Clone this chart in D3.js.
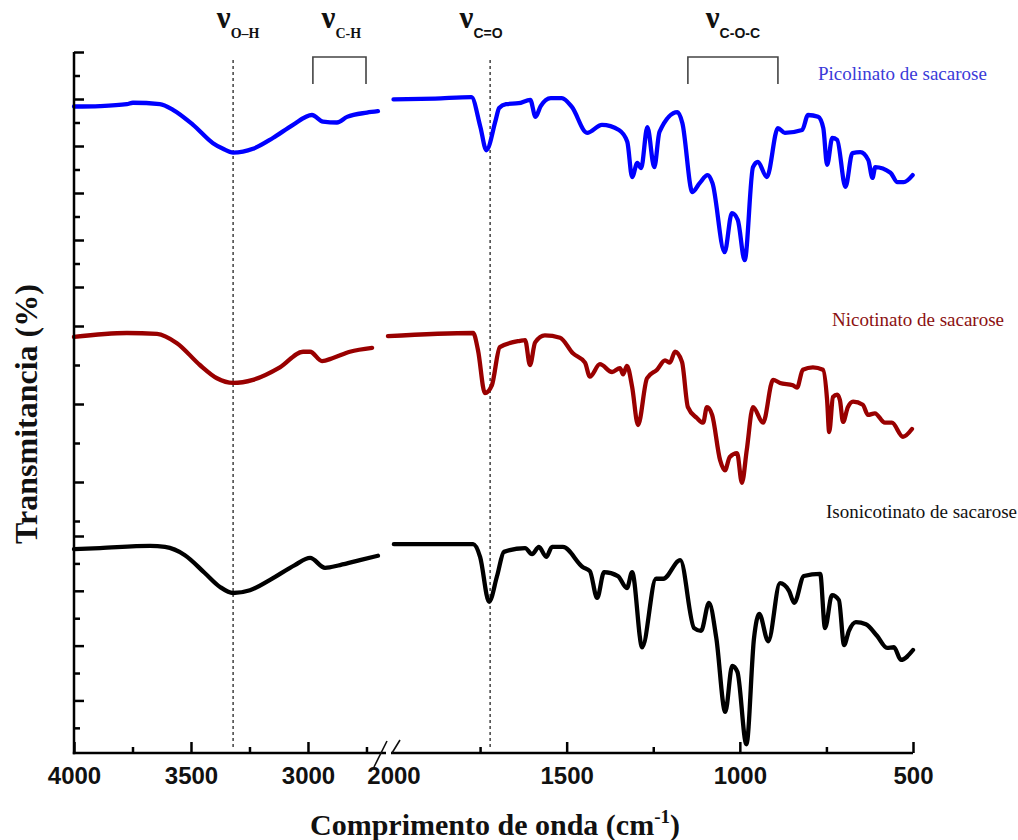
<!DOCTYPE html>
<html>
<head>
<meta charset="utf-8">
<script src="https://cdn.jsdelivr.net/npm/d3@7"></script>
<style>
  body { margin: 0; background: #fff; }
  svg { display: block; }
</style>
</head>
<body>
<svg id="chart" width="1018" height="840"></svg>
<script>
// FTIR spectra of the sucrose esters: [wavenumber (cm-1), transmittance (%)]
// Each spectrum is split into the 4000–2700 and 2000–500 windows of the broken axis.
const picolinatoHigh = [[4000,88.4],[3889,88.5],[3774,88.9],[3748,89.2],[3633,88.9],[3577,87.7],[3491,84.5],[3406,80.6],[3363,79.4],[3320,78.6],[3278,78.8],[3235,79.4],[3150,81.7],[3064,84.5],[2983,86.6],[2936,85.2],[2876,85.0],[2833,86.2],[2748,87.1],[2701,87.4]];
const picolinatoLow = [[2000,89.9],[1880,90.1],[1775,90.4],[1749,84.0],[1732,79.1],[1705,85.5],[1695,88.1],[1675,88.9],[1639,89.1],[1605,89.8],[1590,86.2],[1575,88.5],[1546,90.2],[1514,90.2],[1485,88.3],[1441,82.8],[1398,84.5],[1349,83.4],[1325,80.9],[1311,73.4],[1296,76.4],[1285,75.3],[1267,84.0],[1247,75.5],[1232,83.0],[1180,87.2],[1166,84.9],[1137,70.2],[1116,72.1],[1093,73.8],[1079,72.1],[1044,57.4],[1023,65.7],[1006,64.3],[986,55.7],[962,75.5],[948,76.6],[922,73.4],[890,83.8],[870,82.8],[820,83.4],[803,86.6],[774,86.2],[759,83.8],[748,76.0],[733,81.7],[719,81.3],[695,71.3],[675,78.5],[652,78.7],[629,77.0],[617,73.2],[609,75.5],[565,74.3],[545,72.3],[527,72.3],[501,73.8]];

const nicotinatoHigh = [[4000,98.6],[3774,99.1],[3645,99.0],[3560,97.8],[3462,95.0],[3389,93.3],[3320,92.7],[3235,93.1],[3120,94.7],[3021,96.7],[2991,96.7],[2940,95.5],[2893,95.9],[2821,96.7],[2726,97.2]];
const nicotinatoLow = [[2016,98.7],[1770,99.1],[1756,96.9],[1736,91.4],[1716,92.4],[1693,97.3],[1635,98.1],[1620,98.2],[1606,95.0],[1591,97.9],[1563,98.8],[1519,98.5],[1482,96.5],[1447,95.3],[1433,93.5],[1404,95.1],[1369,94.1],[1346,94.6],[1337,93.8],[1326,94.9],[1311,92.2],[1294,87.3],[1268,93.3],[1239,94.4],[1216,95.6],[1202,95.3],[1187,96.7],[1167,95.4],[1150,89.6],[1124,88.2],[1106,87.6],[1095,89.6],[1080,88.6],[1057,82.8],[1043,81.5],[1029,83.2],[1008,83.7],[994,79.9],[980,84.1],[962,89.6],[933,87.6],[904,93.1],[884,92.7],[847,92.4],[835,92.1],[818,94.4],[789,94.7],[760,94.4],[748,90.5],[742,86.4],[731,90.9],[719,91.2],[711,90.5],[702,87.7],[688,89.6],[673,90.3],[645,89.9],[630,88.6],[610,88.8],[581,87.6],[561,87.6],[529,85.8],[503,86.8]];

const isonicotinatoHigh = [[4000,97.6],[3889,97.8],[3675,98.2],[3611,98.0],[3526,96.5],[3440,93.2],[3376,90.7],[3320,89.6],[3248,90.1],[3162,92.0],[3056,94.7],[2991,96.0],[2927,94.2],[2863,94.7],[2778,95.6],[2701,96.4]];
const isonicotinatoLow = [[1999,98.5],[1770,98.5],[1750,96.2],[1724,88.0],[1701,92.7],[1681,97.1],[1620,97.8],[1600,96.7],[1580,98.0],[1559,96.2],[1542,98.0],[1511,98.0],[1453,94.3],[1433,93.6],[1412,88.7],[1392,93.4],[1352,92.7],[1326,90.5],[1311,93.4],[1282,79.7],[1242,92.2],[1221,92.2],[1172,95.6],[1132,83.2],[1112,82.7],[1089,87.8],[1068,81.4],[1042,67.9],[1022,76.3],[1007,75.2],[981,62.0],[959,81.4],[944,85.8],[918,80.8],[884,91.4],[858,90.0],[843,87.8],[815,92.7],[768,93.1],[754,83.2],[734,89.2],[714,88.3],[699,80.1],[685,82.7],[665,84.3],[636,83.9],[604,81.8],[575,79.6],[555,79.7],[535,77.4],[500,79.2]];

const seriesNames = ["Picolinato de sacarose", "Nicotinato de sacarose", "Isonicotinato de sacarose"];

// x-axis ticks for the two windows
const highMajorTicks = [4000, 3500, 3000];
const highMinorTicks = [3750, 3250, 2750];
const lowMajorTicks = [2000, 1500, 1000, 500];
const lowMinorTicks = [1750, 1250, 750];

// stacked y-axis ticks, one set per spectrum
const topMajorTicks = [50, 60, 70, 80, 90, 100];
const topMinorTicks = [55, 65, 75, 85, 95];
const midMajorTicks = [80, 90, 100];
const midMinorTicks = [75, 85, 95];
const botMajorTicks = [70, 80, 90, 100];
const botMinorTicks = [65, 75, 85, 95];

// band assignments
const bandLines = [{ wn: 3320, win: "high" }, { wn: 1721, win: "low" }];
const bandBrackets = [{ from: 2979, to: 2752, win: "high" }, { from: 1150, to: 890, win: "low" }];
const bandLabels = [
  { sub: "O\u2013H", wn: 3320, win: "high", dx: 5, serif: true },
  { sub: "C-H", wn: 2866, win: "high", dx: 2, serif: true },
  { sub: "C=O", wn: 1721, win: "low", dx: -9, serif: false },
  { sub: "C-O-C", wn: 1020, win: "low", dx: 0, serif: false }
];

const svg = d3.select("#chart");
const axisX = 74, axisTop = 52, axisBottom = 753;

const xHigh = d3.scaleLinear().domain([4000, 2658]).range([axisX, 388]);
const xLow = d3.scaleLinear().domain([2000, 500]).range([393.5, 913]);
const xOf = { high: xHigh, low: xLow };

const yTop = d3.scaleLinear().domain([50, 100]).range([287, 52]);
const yMid = d3.scaleLinear().domain([75, 100]).range([521, 326]);
const yBot = d3.scaleLinear().domain([60.5, 100]).range([752.5, 536]);

const spectra = [
  { name: seriesNames[0], high: picolinatoHigh, low: picolinatoLow, y: yTop, color: "#0000ff", labelColor: "#3a3ad8", lx: 818, ly: 80 },
  { name: seriesNames[1], high: nicotinatoHigh, low: nicotinatoLow, y: yMid, color: "#990000", labelColor: "#8b1010", lx: 832, ly: 326 },
  { name: seriesNames[2], high: isonicotinatoHigh, low: isonicotinatoLow, y: yBot, color: "#000000", labelColor: "#111111", lx: 826, ly: 518 }
];

// dotted band markers
const dashG = svg.append("g");
bandLines.forEach(b => {
  const x = xOf[b.win](b.wn);
  dashG.append("line")
    .attr("x1", x).attr("x2", x).attr("y1", 60).attr("y2", 748)
    .attr("stroke", "#333").attr("stroke-width", 1.4)
    .attr("stroke-dasharray", "3,3");
});

// brackets
bandBrackets.forEach(b => {
  const x1 = xOf[b.win](b.from), x2 = xOf[b.win](b.to);
  svg.append("path")
    .attr("d", `M${x1},84V57H${x2}V84`)
    .attr("fill", "none").attr("stroke", "#444").attr("stroke-width", 1.6);
});

// band labels
bandLabels.forEach(b => {
  const t = svg.append("text")
    .attr("x", xOf[b.win](b.wn) + b.dx).attr("y", 28)
    .attr("text-anchor", "middle").attr("fill", "#111");
  t.append("tspan").attr("font-family", "Liberation Serif").attr("font-weight", "bold")
    .attr("font-size", 31).text("\u03bd");
  t.append("tspan").attr("font-family", b.serif ? "Liberation Serif" : "Liberation Sans")
    .attr("font-weight", "bold").attr("font-size", 14).attr("dy", 10).text(b.sub);
});

// spectra
spectra.forEach(s => {
  ["high", "low"].forEach(win => {
    const line = d3.line()
      .x(d => xOf[win](d[0]))
      .y(d => s.y(d[1]))
      .curve(d3.curveMonotoneX);
    svg.append("path")
      .datum(s[win])
      .attr("d", line)
      .attr("fill", "none")
      .attr("stroke", s.color)
      .attr("stroke-width", 4.3)
      .attr("stroke-linejoin", "round")
      .attr("stroke-linecap", "round");
  });
  svg.append("text")
    .attr("x", s.lx).attr("y", s.ly)
    .attr("font-family", "Liberation Serif").attr("font-size", 19)
    .attr("fill", s.labelColor).text(s.name);
});

// y axis (three stacked tick sets)
const axisStroke = "#000";
function yTicks(scale, majors, minors) {
  [[majors, 10], [minors, 6]].forEach(([vals, size]) => {
    const g = svg.append("g").attr("transform", `translate(${axisX},0)`)
      .call(d3.axisRight(scale).tickValues(vals).tickSize(size).tickFormat(""));
    g.select(".domain").remove();
    g.selectAll(".tick line").attr("stroke", axisStroke).attr("stroke-width", 2.5);
  });
}
yTicks(yTop, topMajorTicks, topMinorTicks);
yTicks(yMid, midMajorTicks, midMinorTicks);
yTicks(yBot, botMajorTicks, botMinorTicks);

svg.append("line")
  .attr("x1", axisX).attr("x2", axisX).attr("y1", axisTop).attr("y2", axisBottom + 1.2)
  .attr("stroke", axisStroke).attr("stroke-width", 2.5);

// x axis: two windows with a break
function xTicks(scale, majors, minors) {
  const gMaj = svg.append("g").attr("transform", `translate(0,${axisBottom})`)
    .call(d3.axisBottom(scale).tickValues(majors).tickSizeInner(-11).tickSizeOuter(0).tickPadding(14).tickFormat(d3.format("d")));
  gMaj.select(".domain").remove();
  gMaj.selectAll(".tick line").attr("stroke", axisStroke).attr("stroke-width", 2.5);
  gMaj.selectAll(".tick").filter(d => d === 2000).select("line").remove();
  gMaj.selectAll(".tick text")
    .attr("font-family", "Liberation Sans").attr("font-weight", "bold")
    .attr("font-size", 24).attr("fill", "#111");
  const gMin = svg.append("g").attr("transform", `translate(0,${axisBottom})`)
    .call(d3.axisBottom(scale).tickValues(minors).tickSizeInner(-6).tickSizeOuter(0).tickFormat(""));
  gMin.select(".domain").remove();
  gMin.selectAll(".tick line").attr("stroke", axisStroke).attr("stroke-width", 2.5);
}
xTicks(xHigh, highMajorTicks, highMinorTicks);
xTicks(xLow, lowMajorTicks, lowMinorTicks);

const breakL = xHigh.range()[1] - 2, breakR = xLow.range()[0] - 2.5;
svg.append("line").attr("x1", axisX - 1.2).attr("x2", breakL).attr("y1", axisBottom).attr("y2", axisBottom)
  .attr("stroke", axisStroke).attr("stroke-width", 2.5);
svg.append("line").attr("x1", breakR).attr("x2", xLow.range()[1]).attr("y1", axisBottom).attr("y2", axisBottom)
  .attr("stroke", axisStroke).attr("stroke-width", 2.5);
// break marks
svg.append("path")
  .attr("d", `M${breakL - 12},${axisBottom + 14}L${breakL + 1},${axisBottom - 12}M${breakR + 1},${axisBottom}L${breakR + 9},${axisBottom - 13}`)
  .attr("stroke", "#111").attr("stroke-width", 1.6).attr("fill", "none");

// axis titles
const xTitle = svg.append("text")
  .attr("x", 495).attr("y", 835).attr("text-anchor", "middle")
  .attr("font-family", "Liberation Serif").attr("font-weight", "bold")
  .attr("font-size", 30).attr("fill", "#111");
xTitle.append("tspan").text("Comprimento de onda (cm");
xTitle.append("tspan").attr("font-size", 19).attr("dy", -12).text("-1");
xTitle.append("tspan").attr("dy", 12).text(")");

svg.append("text")
  .attr("transform", "translate(37,414) rotate(-90)")
  .attr("text-anchor", "middle")
  .attr("font-family", "Liberation Serif").attr("font-weight", "bold")
  .attr("font-size", 32).attr("fill", "#111")
  .text("Transmitancia (%)");
</script>
</body>
</html>
